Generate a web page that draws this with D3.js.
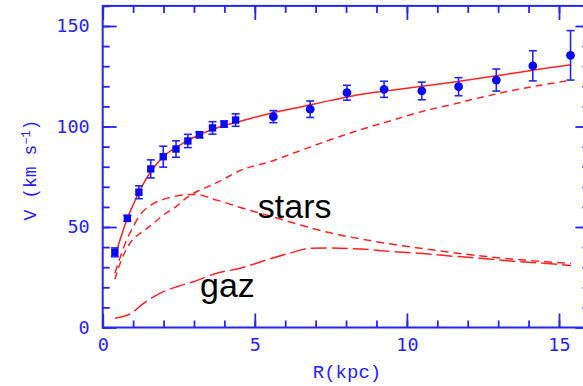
<!DOCTYPE html>
<html>
<head>
<meta charset="utf-8">
<script src="https://cdn.jsdelivr.net/npm/d3@7"></script>
<style>
html,body{margin:0;padding:0;background:#fff;}
svg{display:block;}
</style>
</head>
<body>
<svg id="chart" width="583" height="386"></svg>
<script>
// ---- Observed rotation curve ----
const radius   = [0.40,0.81,1.19,1.58,1.99,2.41,2.80,3.18,3.61,3.99,4.37,5.61,6.82,8.03,9.25,10.49,11.70,12.94,14.14,15.38];
const velocity = [37.4,54.3,67.3,78.9,85.0,88.8,92.8,95.9,99.3,101.2,103.2,104.9,108.6,116.8,118.5,117.7,119.8,123.1,130.2,135.4];
const velErr   = [2.2,1.5,3.2,4.5,5.2,4.1,3.3,1.5,3.1,1.5,3.1,3.0,4.1,3.7,4.0,4.4,4.5,5.5,7.5,12.3];
const marker   = ["sq","sq","sq","sq","sq","sq","sq","sq","sq","sq","sq","ci","ci","ci","ci","ci","ci","ci","ci","ci"];

// ---- Model curves ----
const modelR  = [0.4,0.6,0.8,1.0,1.2,1.6,2.0,2.4,2.8,3.2,3.6,4.0,4.5,5.5,6.5,7.5,8.5,9.5,10.5,11.5,12.5,13.5,14.5,15.4];
const totalV  = [35,45,54,61,67.5,78,85,89.5,93,96,98.5,100.5,102.5,106.5,109.7,113,116,118,120,122,124.2,126.5,128.8,130.7];
const haloV   = [24,33,39.5,44,46.5,51,56,60,65,68.4,71,74,78,82.5,88,93.5,98.5,103,107.5,111,114.7,118,120.8,123];
const starsV  = [27,36,44,50,55.5,61,63.8,65.3,66.2,66,64,62.3,59.8,55.5,51,47,44,41.5,39.3,37.3,35.5,34,32.8,31.9];
const gasR    = [0.4,0.6,0.9,1.34,1.88,2.43,2.98,3.75,4.52,5.39,6.2,6.82,7.5,8.5,9.5,10.5,11.5,12.5,13.5,14.5,15.4];
const gasV    = [4.6,5.2,6.7,12,17,20.3,22.8,27,29.5,33.6,37.2,39.4,39.5,39,37.8,36.8,35.5,34.3,33,32,30.8];

// ---- Ticks & labels ----
const xMajorTicks = [0,5,10,15];
const xMinorTicks = d3.range(0,17,1);
const yMajorTicks = [0,50,100,150];
const yMinorTicks = d3.range(0,161,10);
const xTitle = "R(kpc)";
const componentLabels = [{text:"stars", r:5.1, v:54.5},{text:"gaz", r:3.2, v:15}];

const BLUE = "#2424ff", PTBLUE = "#0a0af0", RED = "#ff2222";
const svg = d3.select("#chart");
const x = d3.scaleLinear().domain([0,16]).range([102.7,589.4]);
const y = d3.scaleLinear().domain([0,160]).range([327.5,5.9]);
const X0 = x.range()[0], X1 = x.range()[1], Y0 = y.range()[0], Y1 = y.range()[1];

function styleAxis(g){
  g.select(".domain").remove();
  g.selectAll(".tick line").attr("stroke",BLUE).attr("stroke-width",1.8);
  g.selectAll(".tick text").attr("fill",BLUE)
    .style("font-family","'DejaVu Sans Mono', monospace").style("font-size","18.5px");
}
// minor ticks
svg.append("g").attr("transform",`translate(${X0},0)`).call(d3.axisLeft(y).tickValues(yMinorTicks).tickSizeInner(-7).tickSizeOuter(0).tickFormat("")).call(styleAxis);
svg.append("g").attr("transform",`translate(${X1},0)`).call(d3.axisRight(y).tickValues(yMinorTicks).tickSizeInner(-7).tickSizeOuter(0).tickFormat("")).call(styleAxis);
svg.append("g").attr("transform",`translate(0,${Y0})`).call(d3.axisBottom(x).tickValues(xMinorTicks).tickSizeInner(-7).tickSizeOuter(0).tickFormat("")).call(styleAxis);
svg.append("g").attr("transform",`translate(0,${Y1})`).call(d3.axisTop(x).tickValues(xMinorTicks).tickSizeInner(-7).tickSizeOuter(0).tickFormat("")).call(styleAxis);
// major ticks
svg.append("g").attr("transform",`translate(${X0},0)`).call(d3.axisLeft(y).tickValues(yMajorTicks).tickSizeInner(-14).tickSizeOuter(0).tickPadding(13).tickFormat(d3.format("d"))).call(styleAxis);
svg.append("g").attr("transform",`translate(${X1},0)`).call(d3.axisRight(y).tickValues(yMajorTicks).tickSizeInner(-14).tickSizeOuter(0).tickFormat("")).call(styleAxis);
svg.append("g").attr("transform",`translate(0,${Y0})`).call(d3.axisBottom(x).tickValues(xMajorTicks).tickSizeInner(-14).tickSizeOuter(0).tickPadding(10).tickFormat(d3.format("d"))).call(styleAxis);
svg.append("g").attr("transform",`translate(0,${Y1})`).call(d3.axisTop(x).tickValues(xMajorTicks).tickSizeInner(-14).tickSizeOuter(0).tickFormat("")).call(styleAxis);

// frame
svg.append("rect").attr("x",X0).attr("y",Y1).attr("width",X1-X0).attr("height",Y0-Y1)
  .attr("fill","none").attr("stroke",BLUE).attr("stroke-width",2);

// axis titles
svg.append("text").attr("x",347).attr("y",378).attr("text-anchor","middle").attr("fill",BLUE)
  .style("font-family","'Liberation Mono', monospace").style("font-size","19px").text(xTitle);
const yt = svg.append("text").attr("transform","translate(36,170) rotate(-90)").attr("text-anchor","middle").attr("fill",BLUE)
  .style("font-family","'Liberation Mono', monospace").style("font-size","18px");
yt.append("tspan").text("V (km s");
yt.append("tspan").attr("dy",-6).style("font-size","12px").text("\u22121");
yt.append("tspan").attr("dy",6).text(")");

// model curves
const line = (rs,vs) => d3.line().x((d,i)=>x(rs[i])).y(d=>y(d)).curve(d3.curveMonotoneX)(vs);
const curves = [
  {r:modelR, v:totalV, dash:null},
  {r:modelR, v:haloV,  dash:"7,5"},
  {r:modelR, v:starsV, dash:"8,5"},
  {r:gasR,   v:gasV,   dash:"16,5"}
];
svg.append("g").selectAll("path").data(curves).join("path")
  .attr("d",c=>line(c.r,c.v)).attr("fill","none").attr("stroke",RED).attr("stroke-width",1.5)
  .attr("stroke-dasharray",c=>c.dash);

// error bars and points
const pts = radius.map((r,i)=>({r, v:velocity[i], e:velErr[i], m:marker[i]}));
const eb = svg.append("g").attr("stroke",BLUE).attr("stroke-width",1.6);
eb.selectAll("line.v").data(pts).join("line").attr("class","v")
  .attr("x1",d=>x(d.r)).attr("x2",d=>x(d.r)).attr("y1",d=>y(d.v-d.e)).attr("y2",d=>y(d.v+d.e));
eb.selectAll("line.t").data(pts).join("line").attr("class","t")
  .attr("x1",d=>x(d.r)-4).attr("x2",d=>x(d.r)+4).attr("y1",d=>y(d.v+d.e)).attr("y2",d=>y(d.v+d.e));
eb.selectAll("line.b").data(pts).join("line").attr("class","b")
  .attr("x1",d=>x(d.r)-4).attr("x2",d=>x(d.r)+4).attr("y1",d=>y(d.v-d.e)).attr("y2",d=>y(d.v-d.e));
svg.append("g").selectAll("rect").data(pts.filter(d=>d.m==="sq")).join("rect")
  .attr("x",d=>x(d.r)-3.7).attr("y",d=>y(d.v)-3.7).attr("width",7.4).attr("height",7.4).attr("fill",PTBLUE);
svg.append("g").selectAll("circle").data(pts.filter(d=>d.m==="ci")).join("circle")
  .attr("cx",d=>x(d.r)).attr("cy",d=>y(d.v)).attr("r",4.4).attr("fill",PTBLUE);

// component labels
svg.append("g").selectAll("text").data(componentLabels).join("text")
  .attr("x",d=>x(d.r)).attr("y",d=>y(d.v)).attr("fill","#000")
  .style("font-family","'Liberation Sans', Arial, sans-serif").style("font-size","34px")
  .text(d=>d.text);
</script>
</body>
</html>
